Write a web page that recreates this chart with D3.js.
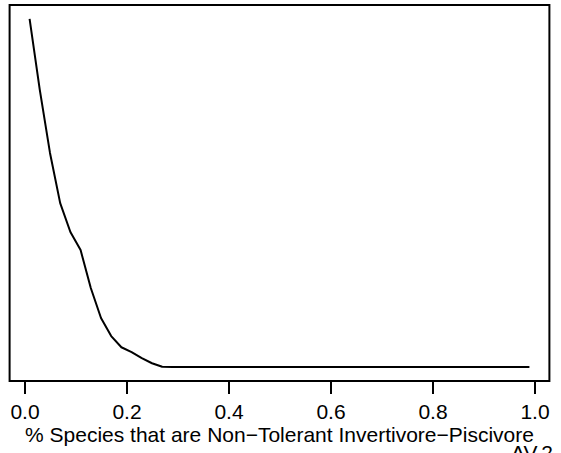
<!DOCTYPE html>
<html>
<head>
<meta charset="utf-8">
<script src="https://cdn.jsdelivr.net/npm/d3@7"></script>
<style>
html,body{margin:0;padding:0;background:#fff;}
svg text{font-family:"Liberation Sans",Arial,Helvetica,sans-serif;fill:#000;}
</style>
</head>
<body>
<svg id="chart" width="561" height="453"></svg>
<script>
// Data (y in relative units, no y axis shown)
const xValues = [0.01,0.03,0.05,0.07,0.09,0.11,0.13,0.15,0.17,0.19,0.21,0.23,0.25,0.27,0.29,0.31,0.35,0.40,0.45,0.50,0.55,0.60,0.65,0.70,0.75,0.80,0.85,0.90,0.95,0.99];
const yValues = [1.0,0.796,0.615,0.471,0.388,0.336,0.227,0.141,0.089,0.057,0.043,0.026,0.011,0.001,0,0,0,0,0,0,0,0,0,0,0,0,0,0,0,0];
const xTicks = [0.0,0.2,0.4,0.6,0.8,1.0];
const xTickLabels = ["0.0","0.2","0.4","0.6","0.8","1.0"];
const xTitle = "% Species that are Non\u2212Tolerant Invertivore\u2212Piscivore";
const cornerLabel = "AV.2";

const svg = d3.select("#chart");
const mLeft = 9.6, mRight = 549.4, mTop = 5, mBottom = 381;
const fontSize = 21;

const xMin = d3.min(xValues), xMax = d3.max(xValues);
const xPad = (xMax - xMin) * 0.04;
const x = d3.scaleLinear().domain([xMin - xPad, xMax + xPad]).range([mLeft, mRight]);
const yMin = d3.min(yValues), yMax = d3.max(yValues);
const yPad = (yMax - yMin) * 0.04;
const y = d3.scaleLinear().domain([yMin - yPad, yMax + yPad]).range([mBottom, mTop]);

// box
svg.append("rect")
  .attr("x", mLeft).attr("y", mTop)
  .attr("width", mRight - mLeft).attr("height", mBottom - mTop)
  .attr("fill", "none").attr("stroke", "#000").attr("stroke-width", 2);

// curve
const line = d3.line().x((d,i)=>x(xValues[i])).y(d=>y(d));
svg.append("path")
  .datum(yValues)
  .attr("d", line)
  .attr("fill", "none").attr("stroke", "#000").attr("stroke-width", 2)
  .attr("stroke-linejoin", "round");

// x axis
const axis = d3.axisBottom(x).tickValues(xTicks)
  .tickFormat((d,i)=>xTickLabels[i]).tickSize(13).tickPadding(10);
const g = svg.append("g").attr("transform", `translate(0,${mBottom})`).call(axis);
g.attr("font-size", fontSize).attr("font-family", "Liberation Sans, Arial, sans-serif");
g.select(".domain").remove();
g.selectAll(".tick line").attr("stroke", "#000").attr("stroke-width", 2);
g.selectAll(".tick text").attr("font-size", fontSize).attr("fill","#000");

// axis title
svg.append("text")
  .attr("x", (mLeft + mRight) / 2).attr("y", 442)
  .attr("text-anchor", "middle").attr("font-size", fontSize)
  .text(xTitle);

// corner label
svg.append("text")
  .attr("x", 511).attr("y", 460)
  .attr("font-size", fontSize)
  .text(cornerLabel);
</script>
</body>
</html>
